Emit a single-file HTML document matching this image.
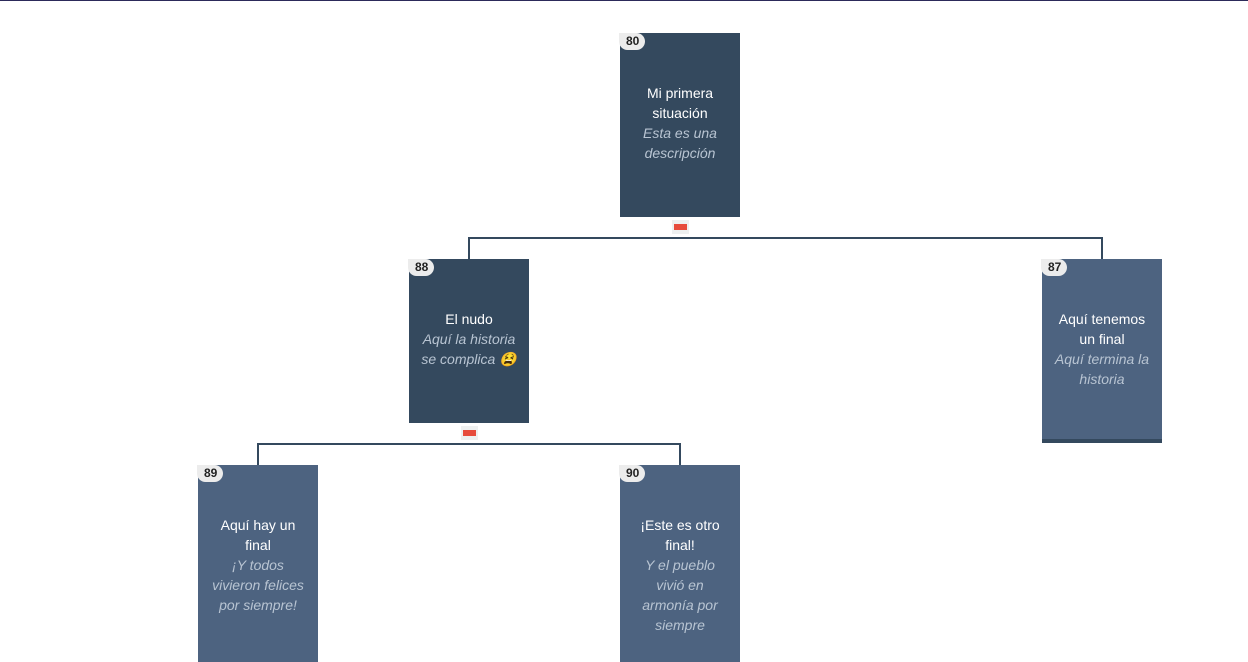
<!DOCTYPE html>
<html><head><meta charset="utf-8"><style>
html,body{margin:0;width:1248px;height:662px;overflow:hidden}
body{background:#fff;font-family:"Liberation Sans",sans-serif;position:relative}
.top{position:absolute;left:0;top:0;width:1248px;height:1px;background:#2c2a5a}
.n{position:absolute;width:120px;display:flex;flex-direction:column;justify-content:center;align-items:center;text-align:center;color:#fff;font-size:14px;line-height:20px;box-sizing:border-box;padding:0;white-space:nowrap}
.d{background:#34495e}.l{background:#4d6380}
.n i{color:#b8c4d2}
.b{position:absolute;left:-1px;top:0;background:#ececec;color:#222;font-size:12px;font-weight:bold;line-height:17px;height:17px;padding:0 6px 0 7px;border-radius:0 9px 9px 9px}
.h{position:absolute;height:2px;background:#34495e}
.v{position:absolute;width:2px;background:#34495e}
.t{position:absolute;width:17px;height:14px;background:#eef0f0}
.t:after{content:"";position:absolute;left:2px;top:4px;width:13px;height:6px;background:#e74c3c}
</style></head><body>
<div class="top"></div>
<div class="n d" style="left:620px;top:33px;height:184px;padding-bottom:4px"><div class="b">80</div><span>Mi primera<br>situación</span><i>Esta es una<br>descripción</i></div>
<div class="t" style="left:672px;top:220px"></div>
<div class="h" style="left:468px;top:237px;width:635px"></div>
<div class="v" style="left:468px;top:237px;height:22px"></div>
<div class="v" style="left:1101px;top:237px;height:22px"></div>
<div class="n d" style="left:409px;top:259px;height:164px;padding-bottom:4px"><div class="b">88</div><span>El nudo</span><i>Aquí la historia<br>se complica 😫</i></div>
<div class="n l" style="left:1042px;top:259px;height:184px;border-bottom:4px solid #34495e"><div class="b">87</div><span>Aquí tenemos<br>un final</span><i>Aquí termina la<br>historia</i></div>
<div class="t" style="left:461px;top:426px"></div>
<div class="h" style="left:257px;top:443px;width:424px"></div>
<div class="v" style="left:257px;top:443px;height:22px"></div>
<div class="v" style="left:679px;top:443px;height:22px"></div>
<div class="n l" style="left:198px;top:465px;height:197px;justify-content:flex-start;padding-top:50px"><div class="b">89</div><span>Aquí hay un<br>final</span><i>¡Y todos<br>vivieron felices<br>por siempre!</i></div>
<div class="n l" style="left:620px;top:465px;height:197px;justify-content:flex-start;padding-top:50px"><div class="b">90</div><span>¡Este es otro<br>final!</span><i>Y el pueblo<br>vivió en<br>armonía por<br>siempre</i></div>
</body></html>
